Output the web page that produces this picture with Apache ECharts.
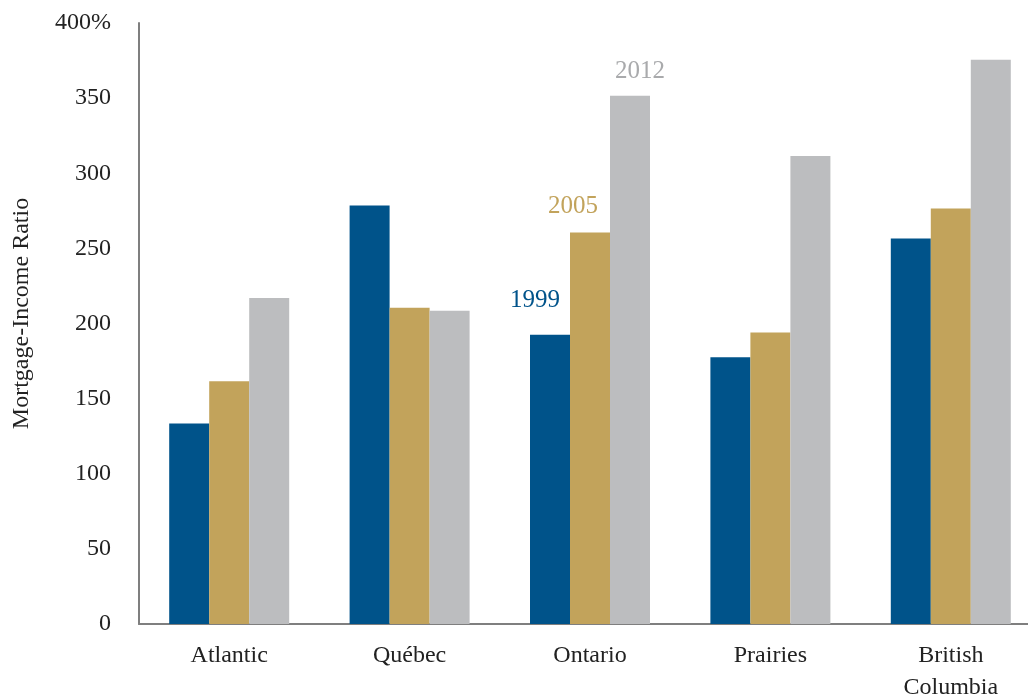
<!DOCTYPE html>
<html>
<head>
<meta charset="utf-8">
<script src="https://cdn.jsdelivr.net/npm/echarts@6/dist/echarts.min.js"></script>
<style>html,body{margin:0;padding:0;background:#fff;}#c{width:1028px;height:695px;}</style>
</head>
<body>
<div id="c"></div>
<script>
var categories = ['Atlantic', 'Québec', 'Ontario', 'Prairies', 'British\nColumbia'];
var values1999 = [133.5, 278.5, 192.5, 177.5, 256.5];
var values2005 = [161.5, 210.5, 260.5, 194, 276.5];
var values2012 = [217, 208.5, 351.5, 311.5, 375.5];
var seriesNames = ['1999', '2005', '2012'];
var colors = ['#00538a', '#c2a35b', '#bcbdbf'];
var labelColors = ['#00538a', '#c2a35b', '#a9aaac'];
var labelIndex = 2; // Ontario carries the year labels
var labelOffsets = [[-15, -17], [-17, -9], [10, -7]];

var font = 'Liberation Serif, DejaVu Serif, serif';
var allVals = [values1999, values2005, values2012];

function buildData(vals, si) {
  return vals.map(function (v, i) {
    if (i !== labelIndex) return v;
    return {
      value: v,
      label: {
        show: true, position: 'top', formatter: seriesNames[si],
        color: labelColors[si], fontSize: 25, fontFamily: font,
        offset: labelOffsets[si]
      }
    };
  });
}

var chart = echarts.init(document.getElementById('c'));
chart.setOption({
  animation: false,
  backgroundColor: '#fff',
  grid: { left: 139, width: 902, top: 23, bottom: 71, containLabel: false, outerBoundsMode: 'none' },
  xAxis: {
    type: 'category', data: categories,
    axisLine: { lineStyle: { color: '#7f7f7f', width: 2 } },
    axisTick: { show: false },
    axisLabel: { color: '#222', fontSize: 24, fontFamily: font, margin: 16, lineHeight: 32 }
  },
  yAxis: {
    type: 'value', min: 0, max: 400, interval: 50,
    name: 'Mortgage-Income Ratio', nameLocation: 'middle', nameGap: 105,
    nameTextStyle: { color: '#222', fontSize: 24, fontFamily: font, padding: [0, 0, 0, 20] },
    axisLine: { show: true, lineStyle: { color: '#7f7f7f', width: 2 } },
    axisTick: { show: false },
    splitLine: { show: false },
    axisLabel: {
      color: '#222', fontSize: 24, fontFamily: font, margin: 28,
      formatter: function (v) { return v === 400 ? '400%' : String(v); }
    }
  },
  series: allVals.map(function (vals, si) {
    return {
      name: seriesNames[si], type: 'bar', barWidth: 40, barGap: '0%',
      itemStyle: { color: colors[si] },
      data: buildData(vals, si)
    };
  })
});
</script>
</body>
</html>
